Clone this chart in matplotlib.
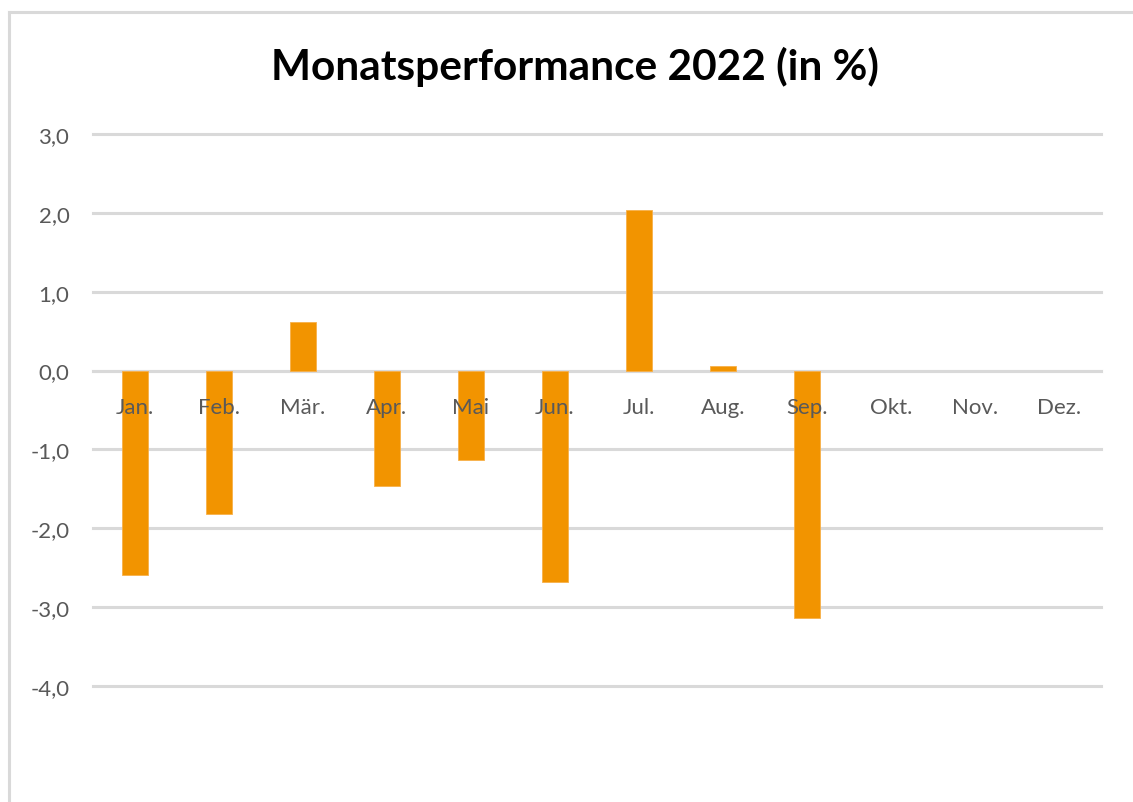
import matplotlib.pyplot as plt
import numpy as np

months = ["Jan.", "Feb.", "Mär.", "Apr.", "Mai", "Jun.", "Jul.", "Aug.", "Sep.", "Okt.", "Nov.", "Dez."]
performance = [-2.59, -1.82, 0.62, -1.46, -1.14, -2.68, 2.04, 0.06, -3.14, np.nan, np.nan, np.nan]
yticks = [3.0, 2.0, 1.0, 0.0, -1.0, -2.0, -3.0, -4.0]

bar_color = "#f29400"
grid_color = "#d9d9d9"
text_color = "#595959"

plt.rcParams["font.family"] = ["Lato", "DejaVu Sans"]

fig = plt.figure(figsize=(11.33, 8.03), dpi=100)
ax = fig.add_axes([93 / 1133, 1 - 687 / 803, (1101 - 93) / 1133, (687 - 135) / 803])

x = np.arange(len(months))
ax.bar(x, performance, width=0.31, color=bar_color, edgecolor="#f7b04a", linewidth=0.6, zorder=2)

ax.set_xlim(-0.5, len(months) - 0.5)
ax.set_ylim(-4, 3)
ax.set_yticks(yticks)
ax.set_yticklabels([f"{v:.1f}".replace(".", ",") for v in yticks], fontsize=16, color=text_color)
ax.yaxis.grid(True, color=grid_color, linewidth=2.2)
ax.set_axisbelow(True)
for line in ax.get_ygridlines():
    line.set_clip_on(False)
ax.tick_params(axis="y", length=0, pad=17)

ax.spines["bottom"].set_position(("data", 0))
ax.spines["bottom"].set_color(grid_color)
ax.spines["bottom"].set_linewidth(2.2)
ax.spines["bottom"].set_zorder(1)
for side in ["top", "left", "right"]:
    ax.spines[side].set_visible(False)
ax.set_xticks(x)
ax.set_xticklabels(months, fontsize=16, color=text_color)
ax.tick_params(axis="x", length=0, pad=19)
# month labels sit on top of the bars
for lbl in ax.get_xticklabels():
    lbl.set_zorder(5)
ax.xaxis.set_zorder(5)

fig.text(575 / 1133, 1 - 67 / 803, "Monatsperformance 2022 (in %)", ha="center", va="center",
         fontsize=30.5, fontweight="bold", color="black")

# chart border (top and left edges only visible in the reference)
fig.add_artist(plt.Line2D([9 / 1133, 9 / 1133], [0, 1 - 13 / 803], transform=fig.transFigure,
                          color=grid_color, linewidth=2.2))
fig.add_artist(plt.Line2D([9 / 1133, 1], [1 - 13 / 803, 1 - 13 / 803], transform=fig.transFigure,
                          color=grid_color, linewidth=2.2))

fig.savefig("out.png", dpi=100)
